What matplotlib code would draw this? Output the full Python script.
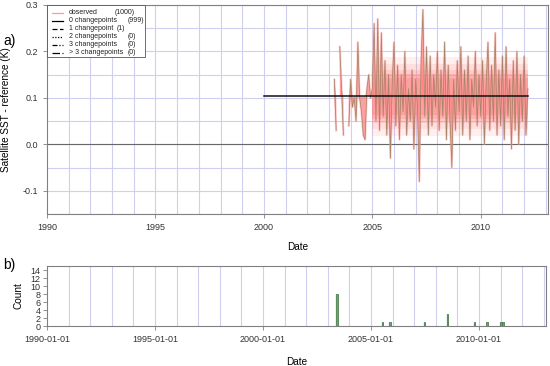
import numpy as np
import matplotlib
matplotlib.use("Agg")
import matplotlib.pyplot as plt
from matplotlib.lines import Line2D
from matplotlib.patches import Rectangle

plt.rcParams['font.family'] = ['Liberation Sans', 'DejaVu Sans']

# ---------------- data ----------------
# monthly observed differences (K), starting 2003-04
obs_start = 2003 + 3 / 12
obs_values = [
    # 2003 Apr..Dec
    0.14, 0.03, np.nan, 0.21, 0.12, 0.02, np.nan, np.nan, 0.04,
    # 2004
    0.14, 0.08, 0.10, 0.05, 0.22, 0.10, 0.07, 0.02, 0.01, 0.12, 0.15, 0.10,
    # 2005
    0.12, 0.26, 0.05, 0.27, 0.03, 0.24, 0.06, 0.18, 0.02, 0.15, -0.03, 0.13,
    # 2006
    0.22, 0.04, 0.17, 0.01, 0.15, 0.07, 0.20, 0.02, 0.12, 0.05, 0.16, -0.01,
    # 2007
    0.14, 0.08, -0.08, 0.18, 0.29, 0.06, 0.21, 0.02, 0.19, 0.04, 0.15, 0.08,
    # 2008
    0.20, 0.03, 0.16, 0.06, 0.22, 0.01, 0.17, 0.05, -0.05, 0.14, 0.03, 0.18,
    # 2009
    0.07, 0.21, 0.02, 0.16, 0.05, 0.19, 0.01, 0.14, 0.08, 0.20, 0.04, 0.15,
    # 2010
    0.06, 0.18, 0.00, 0.13, 0.22, 0.03, 0.17, 0.05, 0.24, 0.02, 0.16, 0.04,
    # 2011
    0.19, 0.01, 0.21, 0.06, 0.14, -0.01, 0.18, 0.03, 0.20, 0.00, 0.15, 0.05,
    # 2012
    0.19, 0.02, 0.12,
]
offset_level = 0.103          # 0 changepoint fit
offset_range = [2000.0, 2012.2]

cp_dates = [2003.42, 2005.54, 2005.87, 2007.47, 2008.53, 2009.80, 2010.38, 2011.02, 2011.10]
cp_counts = [8, 1, 1, 1, 3, 1, 1, 1, 1]

legend_labels = ["observed", "0 changepoints", "1 changepoint", "2 changepoints",
                 "3 changepoints", "> 3 changepoints"]
legend_counts = ["(1000)", "(999)", "(1)", "(0)", "(0)", "(0)"]

# ---------------- figure ----------------
fig = plt.figure(figsize=(5.5, 3.66), dpi=100)
ax1 = fig.add_axes([47 / 550, 1 - 214 / 366, 501 / 550, 209 / 366])
ax2 = fig.add_axes([47 / 550, 1 - 326 / 366, 499 / 550, 60 / 366])

gridc = '#cfcff0'
spc = '#808080'
tickc = '#333333'
fs = 6.5

obs = np.array(obs_values, dtype=float)
t = obs_start + np.arange(len(obs)) / 12.0

# top panel
for yr in range(1991, 2014):
    ax1.axvline(yr, color=gridc, lw=0.8, zorder=0)
for yv in np.arange(-0.15, 0.31, 0.05):
    ax1.axhline(yv, color=gridc, lw=0.8, zorder=0)
ax1.axhline(0.0, color='#666666', lw=0.8, zorder=1)

mean_obs = offset_level
valid = ~np.isnan(obs)
lo = np.where(valid, np.minimum(obs, mean_obs), np.nan)
hi = np.where(valid, np.maximum(obs, mean_obs), np.nan)
cont = valid & (t > 2004.95)
# soft ensemble spread: stacked translucent bands
for w, a in [(0.085, 0.12), (0.07, 0.15), (0.058, 0.2), (0.048, 0.3), (0.04, 0.4)]:
    ax1.fill_between(t, mean_obs - w, mean_obs + w, where=cont,
                     color='#ff8080', alpha=a, lw=0, zorder=1)
ax1.fill_between(t, lo, hi, color='#ff8080', alpha=0.75, lw=0, zorder=2)
ax1.plot(t, obs, color='#ffa0a0', lw=1.6, alpha=0.5, zorder=2)
ax1.plot(t, obs, color='#a88468', lw=0.55, zorder=3)
ax1.plot(offset_range, [offset_level, offset_level], color='#111111', lw=1.1, zorder=4)

ax1.set_xlim(1990, 2013.1)
ax1.set_ylim(-0.15, 0.3)
ax1.set_xticks([1990, 1995, 2000, 2005, 2010])
ax1.set_yticks([-0.1, 0.0, 0.1, 0.2, 0.3])
ax1.set_yticklabels(['-0.1', '0.0', '0.1', '0.2', '0.3'])
ax1.tick_params(labelsize=fs, colors=tickc, length=3, width=0.6, color=spc)
for s in ax1.spines.values():
    s.set_color(spc)
    s.set_linewidth(0.8)
ax1.set_ylabel('Satellite SST - reference (K)', fontsize=7.2, labelpad=8)
ax1.set_xlabel('Date', fontsize=7.2, labelpad=7)

# manual legend
ax1.add_patch(Rectangle((0.0, 1 - 52 / 209), 98 / 501, 52 / 209, transform=ax1.transAxes,
                        facecolor='white', edgecolor='#555555', lw=0.6, zorder=6))
styles = [dict(color='#ff9999', ls='-'), dict(color='black', ls='-'),
          dict(color='black', ls=(0, (4, 2))), dict(color='black', ls=(0, (1, 1.2))),
          dict(color='black', ls=(0, (4, 1.5, 1, 1.5))), dict(color='black', ls=(0, (6, 2)))]
count_x = [115, 128, 117, 128, 128, 128]
for i, (lab, cnt, st) in enumerate(zip(legend_labels, legend_counts, styles)):
    ypix = 13 + 8 * i - 5
    yax = 1 - ypix / 209
    ax1.add_line(Line2D([5 / 501, 16 / 501], [yax, yax], transform=ax1.transAxes,
                        lw=0.9, zorder=7, **st))
    ax1.text(22 / 501, yax, lab, transform=ax1.transAxes, fontsize=5, va='center',
             ha='left', zorder=7, color='#222222')
    ax1.text((count_x[i] - 47) / 501, yax, cnt, transform=ax1.transAxes, fontsize=5,
             va='center', ha='left', zorder=7, color='#222222')

fig.text(3 / 550, 1 - 41 / 366, 'a)', fontsize=10, va='center', ha='left')

# bottom panel
for yr in range(1991, 2014):
    ax2.axvline(yr, color=gridc, lw=0.8, zorder=0)
ax2.bar(cp_dates, cp_counts, width=0.16, color='#e4f6f2', lw=0, zorder=2)
ax2.bar(cp_dates, cp_counts, width=0.07, color='#6aa86a', edgecolor='#3d6e3d', lw=0.5,
        zorder=3)
ax2.set_xlim(1990, 2013.1)
ax2.set_ylim(0, 15)
ax2.set_yticks(range(0, 15, 2))
ax2.set_xticks([1990, 1995, 2000, 2005, 2010])
ax2.set_xticklabels(['1990-01-01', '1995-01-01', '2000-01-01', '2005-01-01', '2010-01-01'])
ax2.tick_params(labelsize=fs, colors=tickc, length=3, width=0.6, color=spc)
ax2.tick_params(axis='y', pad=1.5)
for s in ax2.spines.values():
    s.set_color(spc)
    s.set_linewidth(0.8)
ax2.set_ylabel('Count', fontsize=7.2, labelpad=5)
ax2.set_xlabel('Date', fontsize=7.2, labelpad=9)
fig.text(3 / 550, 1 - 265 / 366, 'b)', fontsize=10, va='center', ha='left')

fig.savefig('out.png', dpi=100)
